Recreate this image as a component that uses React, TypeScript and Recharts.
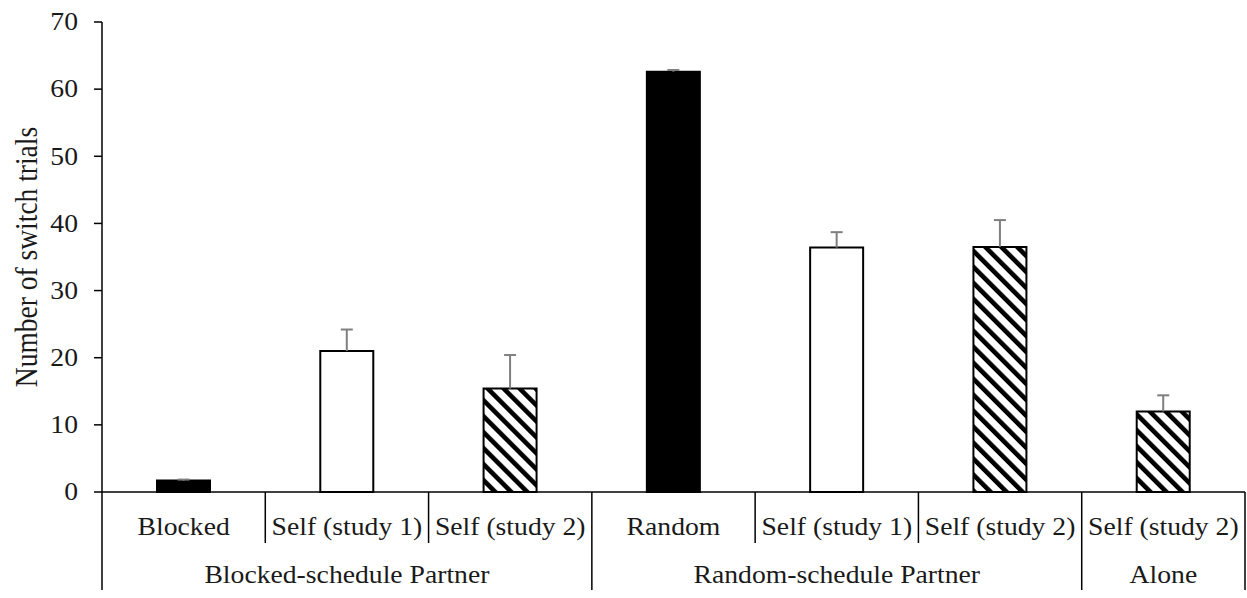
import React from "react";
import { BarChart, Bar, XAxis, YAxis, Cell } from "recharts";

const categories = [
  "Blocked",
  "Self (study 1)",
  "Self (study 2)",
  "Random",
  "Self (study 1)",
  "Self (study 2)",
  "Self (study 2)",
];
const groups = [
  "Blocked-schedule Partner",
  "Blocked-schedule Partner",
  "Blocked-schedule Partner",
  "Random-schedule Partner",
  "Random-schedule Partner",
  "Random-schedule Partner",
  "Alone",
];
const kinds = ["partner", "self1", "self2", "partner", "self1", "self2", "self2"];
const means = [1.7, 21.0, 15.4, 62.6, 36.4, 36.5, 12.0];
const errors = [0.15, 3.2, 5.0, 0.25, 2.3, 4.0, 2.4];
const yTicks = [0, 10, 20, 30, 40, 50, 60, 70];

const data = categories.map((label, i) => ({
  label,
  group: groups[i],
  kind: kinds[i],
  mean: means[i],
  err: errors[i],
}));

const FILLS: Record<string, string> = {
  partner: "#000",
  self1: "#fff",
  self2: "url(#hatch)",
};

const FONT = "Liberation Serif";
const TEXT = "#1a1a1a";
const STRETCH = 1.13;
const SLOT = (1245 - 102) / categories.length;

const groupRange = (i: number) => {
  let s = i;
  let e = i;
  while (s > 0 && groups[s - 1] === groups[i]) s--;
  while (e < groups.length - 1 && groups[e + 1] === groups[i]) e++;
  return [s, e];
};

const XTick = (props: any) => {
  const { x, y, payload } = props;
  const i = payload.index;
  const half = payload.offset ? payload.offset : SLOT / 2;
  const [s, e] = groupRange(i);
  const center = (s + e) / 2;
  const isStart = i === s;
  const isLast = i === categories.length - 1;
  return (
    <g>
      <text
        transform={`translate(${x},${y + 43}) scale(${STRETCH},1)`}
        textAnchor="middle"
        fontFamily={FONT}
        fontSize={24.5}
        fill={TEXT}
      >
        {categories[i]}
      </text>
      <line x1={x - half} y1={y} x2={x - half} y2={y + (isStart ? 98 : 51)} stroke="#000" strokeWidth={1.5} />
      {isLast && <line x1={x + half} y1={y} x2={x + half} y2={y + 98} stroke="#000" strokeWidth={1.5} />}
      {Math.round(center) === i && (
        <text
          transform={`translate(${x + (center - i) * 2 * half},${y + 91}) scale(${STRETCH},1)`}
          textAnchor="middle"
          fontFamily={FONT}
          fontSize={24.5}
          fill={TEXT}
        >
          {groups[i]}
        </text>
      )}
    </g>
  );
};

const YTick = (props: any) => {
  const { x, y, payload } = props;
  return (
    <text
      transform={`translate(${x},${y + 8.3}) scale(${STRETCH},1)`}
      textAnchor="end"
      fontFamily={FONT}
      fontSize={24.5}
      fill={TEXT}
    >
      {payload.value}
    </text>
  );
};

const YTitle = (props: any) => {
  const vb = props.viewBox || { y: 22, height: 470 };
  const cy = vb.y + vb.height / 2;
  return (
    <text
      transform={`translate(37,${cy}) scale(${STRETCH},1) rotate(-90)`}
      textAnchor="middle"
      fontFamily={FONT}
      fontSize={27.5}
      fill={TEXT}
    >
      Number of switch trials
    </text>
  );
};

const Whisker = (props: any) => {
  const { x, y, width, height } = props;
  const cx = x + width / 2;
  return (
    <g>
      <line x1={cx} y1={y} x2={cx} y2={y + height} stroke="#7f7f7f" strokeWidth={2} />
      <line x1={cx - 6} y1={y} x2={cx + 6} y2={y} stroke="#7f7f7f" strokeWidth={2} />
    </g>
  );
};

const App = () => {
  return (
    <div style={{ position: "absolute", left: 0, top: 0, width: 1247, height: 598, background: "#fff" }}>
      <svg width={0} height={0} style={{ position: "absolute" }}>
        <defs>
          <pattern id="hatch" patternUnits="userSpaceOnUse" width={11.3} height={11.3} patternTransform="rotate(-45)">
            <rect x={0} y={0} width={11.3} height={11.3} fill="#fff" />
            <rect x={0} y={0} width={4.6} height={11.3} fill="#000" />
          </pattern>
        </defs>
      </svg>
      <BarChart
        width={1247}
        height={598}
        data={data}
        margin={{ top: 22, right: 2, bottom: 0, left: 0 }}
        barSize={53}
      >
        <XAxis
          dataKey="label"
          height={106}
          interval={0}
          tickLine={false}
          tickSize={0}
          tickMargin={0}
          axisLine={{ stroke: "#000", strokeWidth: 1.5 }}
          tick={<XTick />}
        />
        <YAxis
          width={102}
          domain={[0, 70]}
          ticks={yTicks}
          interval={0}
          tickSize={8}
          tickMargin={16}
          axisLine={{ stroke: "#000", strokeWidth: 1.5 }}
          tickLine={{ stroke: "#000", strokeWidth: 1.5 }}
          tick={<YTick />}
          label={{ content: <YTitle /> }}
        />
        <Bar dataKey="mean" stackId="a" stroke="#000" strokeWidth={2} isAnimationActive={false}>
          {data.map((d, i) => (
            <Cell key={`c-${i}`} fill={FILLS[d.kind]} />
          ))}
        </Bar>
        <Bar dataKey="err" stackId="a" shape={<Whisker />} isAnimationActive={false} />
      </BarChart>
    </div>
  );
};

export default App;
